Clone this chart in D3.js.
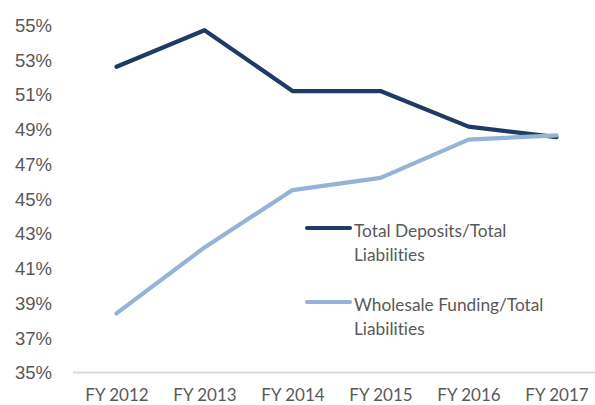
<!DOCTYPE html>
<html><head><meta charset="utf-8">
<script src="https://cdn.jsdelivr.net/npm/d3@7"></script>
<style>
body{margin:0;background:#fff;}
svg{display:block;}
text{font-variant-ligatures:none;font-feature-settings:"liga" 0;}
</style></head>
<body>
<svg id="c" width="595" height="405"></svg>
<script>
const categories = ["FY 2012","FY 2013","FY 2014","FY 2015","FY 2016","FY 2017"];
const depositsValues = [52.6, 54.7, 51.2, 51.2, 49.15, 48.55];
const wholesaleValues = [38.4, 42.2, 45.5, 46.2, 48.4, 48.65];
const yTicks = [35,37,39,41,43,45,47,49,51,53,55];
const seriesNames = [["Total Deposits/Total","Liabilities"],["Wholesale Funding/Total","Liabilities"]];
const seriesColors = ["#1f3b63","#95b3d7"];

const svg = d3.select("#c");
const x = d3.scalePoint().domain(categories).range([116.5, 556.5]);
const y = d3.scaleLinear().domain([35,55]).range([372.5, 25]);
const gray = "#595959";

const yAxis = d3.axisLeft(y).tickValues(yTicks).tickFormat(d=>d+"%").tickSize(0).tickPadding(0);
const gy = svg.append("g").attr("transform","translate(52,0)").call(yAxis);
gy.select(".domain").remove();
gy.selectAll("text").attr("fill",gray).style("font-family","'Liberation Sans',Arial,sans-serif").style("font-size","18.5px").attr("dy","0.35em");

const xAxis = d3.axisBottom(x).tickSize(0).tickPadding(0);
const gx = svg.append("g").attr("transform","translate(0,372.5)").call(xAxis);
gx.select(".domain").remove();
gx.append("line").attr("x1",73).attr("x2",595).attr("y1",0).attr("y2",0).attr("stroke","#d9d9d9").attr("stroke-width",2);
gx.selectAll("text").attr("fill",gray).style("font-family","Lato,'Open Sans',sans-serif").style("font-size","17px").attr("y",0).attr("dy","28.5px");

const line = d3.line().x((d,i)=>x(categories[i])).y(d=>y(d));
[depositsValues, wholesaleValues].forEach((vals,k)=>{
  svg.append("path").datum(vals).attr("d",line).attr("fill","none")
    .attr("stroke",seriesColors[k]).attr("stroke-width",4.2)
    .attr("stroke-linejoin","round").attr("stroke-linecap","round");
});
const legY = [228, 302];
seriesNames.forEach((nm,k)=>{
  const g = svg.append("g");
  g.append("line").attr("x1",307).attr("x2",350).attr("y1",legY[k]).attr("y2",legY[k])
    .attr("stroke",seriesColors[k]).attr("stroke-width",4.2).attr("stroke-linecap","round");
  const t = g.append("text").attr("fill",gray).style("font-family","Lato,'Open Sans',sans-serif").style("font-size","17.3px");
  nm.forEach((s,j)=>{
    t.append("tspan").attr("x",354).attr("y",legY[k]+8.5+j*24).text(s);
  });
});
</script>
</body></html>
